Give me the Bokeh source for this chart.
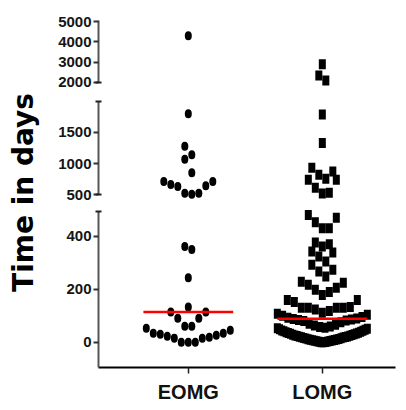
import numpy as np
from bokeh.plotting import figure
from bokeh.layouts import row, column
from bokeh.models import Range1d, FixedTicker, Label, ColumnDataSource
from bokeh.embed import file_html
from bokeh.resources import INLINE

# ---------------- data ----------------
categories = ["EOMG", "LOMG"]

eomg_days = [4300, 1800, 1280, 1140, 1070, 850, 710, 710, 660, 640, 630,
             520, 520, 505, 362, 350, 244, 133, 114, 114, 91, 91, 61, 61,
             53, 46, 34, 34, 30, 27, 23, 19, 15, 15, 0, 0, 0]

lomg_days = [2900, 2340, 2100,
             1790, 1330, 930, 870, 820, 755, 740, 740, 610, 530, 515,
             480, 470, 453, 430, 430, 377, 370, 362, 343, 339, 324, 305, 293,
             274, 267, 248, 229, 225, 217, 206, 198, 190, 179, 160, 160, 152,
             133, 130, 130, 130, 130,
             124, 118, 112, 108, 104, 100, 96, 93, 90, 88, 86, 84, 82, 80, 76,
             70, 66, 63, 60, 58, 55, 53, 51, 49, 47, 45, 44, 42, 40, 38, 36,
             35, 33, 32, 30, 29, 28, 26, 25, 24, 22, 21, 20, 19, 18, 16, 15,
             14, 13, 12, 11, 10, 9, 8, 7, 6, 5, 4, 3, 2, 1, 0, 0]

y_ticks_top = [2000, 3000, 4000, 5000]
y_ticks_mid = [500, 1000, 1500]
y_ticks_bot = [0, 200, 400]

# ---------------- layout constants ----------------
LABEL_W = 48
LEFT, RIGHT, FRAME_W = 50, 3, 297
X_START, X_END = 0.33, 2.546
PX_PER_X = FRAME_W / (X_END - X_START)
TICK_FONT = "Liberation Sans"

segments = [
    dict(lo=2000, hi=1e9, rng=(1750, 5050), frame_top=20, frame_h=67,
         b_top=20, b_bot=9, bounds=(2000, 5050), ticks=y_ticks_top, caps=[2000]),
    dict(lo=500, hi=2000, rng=(420, 2080), frame_top=96, frame_h=103,
         b_top=0, b_bot=5, bounds=(500, 2000), ticks=y_ticks_mid, caps=[500, 2000]),
    dict(lo=-1e9, hi=500, rng=(-95, 520), frame_top=204, frame_h=163,
         b_top=0, b_bot=41, bounds=(-95, 495), ticks=y_ticks_bot, caps=[495]),
]


def seg_index(v):
    for i, s in enumerate(segments):
        if s["lo"] <= v < s["hi"]:
            return i
    return len(segments) - 1


def screen_y(v):
    s = segments[seg_index(v)]
    scale = s["frame_h"] / (s["rng"][1] - s["rng"][0])
    return s["frame_top"] + (s["rng"][1] - v) * scale


def column_scatter(values, step=7.0, bin_px=14.5, max_half=45.0):
    """Prism-like column scatter: values are binned into rows of bin_px screen pixels;
    within a row the lowest values sit in the centre, higher ones alternate outward;
    crowded rows are squeezed to a maximum half-width."""
    vals = np.array(values, dtype=float)
    ys = np.array([screen_y(v) for v in vals])
    order = np.argsort(vals, kind="stable")
    offs = np.zeros(len(vals))
    i = 0
    while i < len(order):
        start_y = ys[order[i]]
        j = i
        while j < len(order) and start_y - ys[order[j]] < bin_px:
            j += 1
        members = order[i:j]
        n = len(members)
        sp = step if n <= 1 else min(step, 2 * max_half / (n - 1))
        slots = sorted([k - (n - 1) / 2 for k in range(n)], key=lambda s: (abs(s), -s))
        for m, s in zip(members, slots):
            offs[m] = s * sp
        i = j
    return offs / PX_PER_X


groups = [
    dict(cat=1, values=eomg_days, marker="ellipse"),
    dict(cat=2, values=lomg_days, marker="rect"),
]
for g in groups:
    g["x"] = g["cat"] + column_scatter(g["values"])
    g["median"] = float(np.median(g["values"]))

x_range = Range1d(X_START, X_END)
figs = []
for si, s in enumerate(segments):
    is_bottom = si == len(segments) - 1
    p = figure(width=LEFT + FRAME_W + RIGHT, height=s["b_top"] + s["frame_h"] + s["b_bot"],
               x_range=x_range, y_range=Range1d(*s["rng"]),
               x_axis_location="below" if is_bottom else None,
               output_backend="svg", toolbar_location=None, title=None,
               min_border_left=LEFT, min_border_right=RIGHT,
               min_border_top=s["b_top"], min_border_bottom=s["b_bot"])
    p.xgrid.visible = False
    p.ygrid.visible = False
    p.outline_line_color = None
    p.background_fill_color = "white"
    p.border_fill_color = "white"

    ax = p.yaxis[0]
    ax.ticker = FixedTicker(ticks=s["ticks"], minor_ticks=s["caps"])
    ax.bounds = s["bounds"]
    ax.axis_line_color = "#555555"
    ax.axis_line_width = 2
    ax.major_tick_out = 5
    ax.major_tick_in = 0
    ax.major_tick_line_width = 2
    ax.major_tick_line_color = "#333333"
    ax.minor_tick_out = 3
    ax.minor_tick_in = 3
    ax.minor_tick_line_width = 2
    ax.minor_tick_line_color = "#222222"
    ax.major_label_text_font = TICK_FONT
    ax.major_label_text_font_style = "bold"
    ax.major_label_text_font_size = "15px"
    ax.major_label_text_color = "#151515"
    ax.major_label_standoff = 2

    if is_bottom:
        xa = p.xaxis[0]
        xa.ticker = FixedTicker(ticks=[1, 2], minor_ticks=[])
        xa.major_label_overrides = {1: categories[0], 2: categories[1]}
        xa.axis_line_color = "black"
        xa.axis_line_width = 2
        xa.major_tick_out = 6
        xa.major_tick_in = 0
        xa.major_tick_line_width = 1.5
        xa.major_tick_line_color = "#222222"
        xa.minor_tick_out = 0
        xa.minor_tick_in = 0
        xa.major_label_text_font = TICK_FONT
        xa.major_label_text_font_style = "bold"
        xa.major_label_text_font_size = "20px"
        xa.major_label_text_color = "#111111"
        xa.major_label_standoff = 7

    for g in groups:
        vals = np.array(g["values"], dtype=float)
        mask = np.array([seg_index(v) == si for v in vals])
        if mask.any():
            src = ColumnDataSource(dict(x=g["x"][mask], y=vals[mask]))
            if g["marker"] == "ellipse":
                p.ellipse(x="x", y="y", width=7, height=9, width_units="screen",
                          height_units="screen", source=src, fill_color="black",
                          line_color=None)
            else:
                p.rect(x="x", y="y", width=7, height=10, width_units="screen",
                       height_units="screen", source=src, fill_color="black",
                       line_color=None)
    for g in groups:
        if seg_index(g["median"]) == si:
            p.segment(x0=[g["cat"] - 0.335], x1=[g["cat"] + 0.335],
                      y0=[g["median"]], y1=[g["median"]],
                      line_color="#ff0000", line_width=2.5)
    figs.append(p)

total_h = sum(f.height for f in figs)
lab = figure(width=LABEL_W, height=total_h, x_range=Range1d(0, 1), y_range=Range1d(0, 1),
             output_backend="svg", toolbar_location=None, title=None,
             x_axis_location=None, y_axis_location=None,
             min_border_left=0, min_border_right=0, min_border_top=0, min_border_bottom=0)
lab.xgrid.visible = False
lab.ygrid.visible = False
lab.outline_line_color = None
lab.add_layout(Label(x=23, y=total_h - 192, x_units="screen", y_units="screen",
                     text="Time in days", angle=np.pi / 2, text_align="center",
                     text_baseline="middle", text_font="DejaVu Sans",
                     text_font_style="bold", text_font_size="28px", text_color="black"))

layout = row(lab, column(*figs, spacing=0), spacing=0)

with open("out.html", "w") as f:
    f.write(file_html(layout, INLINE))
